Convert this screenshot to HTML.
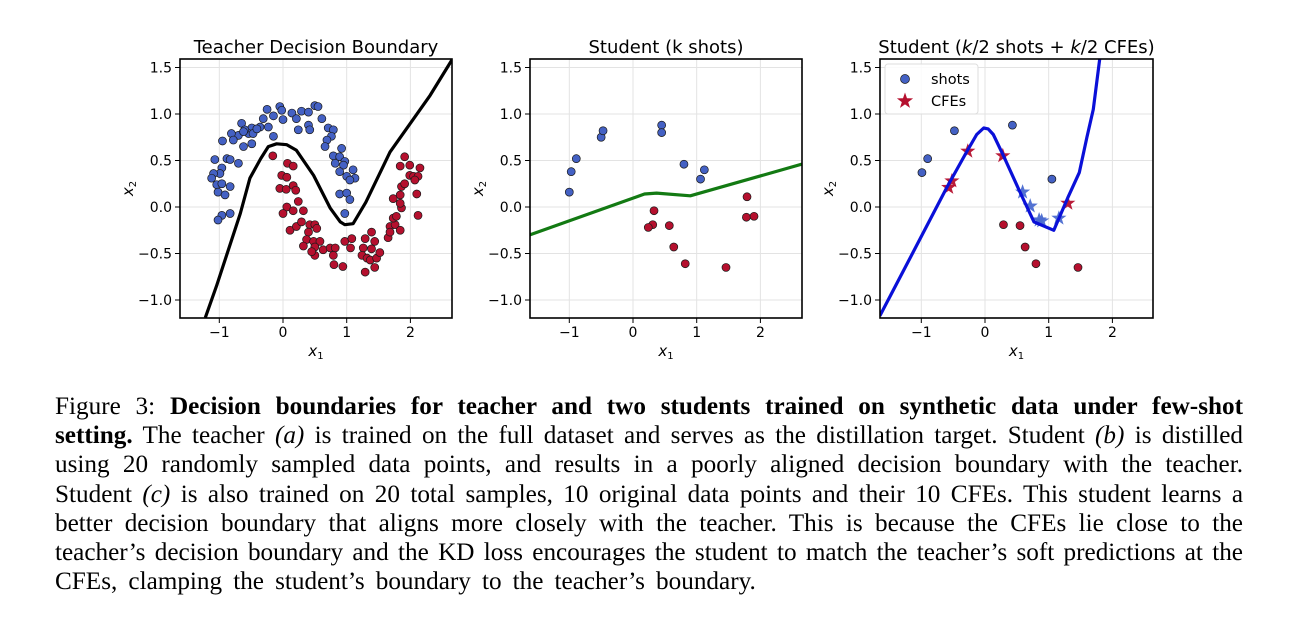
<!DOCTYPE html>
<html><head><meta charset="utf-8">
<style>
body{margin:0;background:#fff;width:1300px;height:632px;overflow:hidden}
svg{position:absolute;left:0;top:0}
#cap{position:absolute;left:55px;top:392px;width:1188px;font-family:"Liberation Serif",serif;font-size:25.2px;line-height:29.2px;color:#000}
#cap div{text-align:justify;text-align-last:justify;white-space:nowrap}
#cap div.last{text-align-last:left;word-spacing:4.8px}
</style></head><body>
<svg id="chart" width="1300" height="380"></svg>
<div id="cap">
<div>Figure 3: <b>Decision boundaries for teacher and two students trained on synthetic data under few-shot</b></div>
<div><b>setting.</b> The teacher <i>(a)</i> is trained on the full dataset and serves as the distillation target. Student <i>(b)</i> is distilled</div>
<div>using 20 randomly sampled data points, and results in a poorly aligned decision boundary with the teacher.</div>
<div>Student <i>(c)</i> is also trained on 20 total samples, 10 original data points and their 10 CFEs. This student learns a</div>
<div>better decision boundary that aligns more closely with the teacher. This is because the CFEs lie close to the</div>
<div>teacher’s decision boundary and the KD loss encourages the student to match the teacher’s soft predictions at the</div>
<div class="last">CFEs, clamping the student’s boundary to the teacher’s boundary.</div>
</div>
<script>
const xTicks=[-1,0,1,2];
const yTicks=[-1.0,-0.5,0.0,0.5,1.0,1.5];
const yTickLabels=["−1.0","−0.5","0.0","0.5","1.0","1.5"];
const t_blue=[[-0.25,1.05],[-0.05,1.08],[-0.02,1.04],[0.14,1.01],[0.29,1.03],[0.40,1.02],[0.50,1.09],[0.55,1.08],[-0.31,0.95],[-0.15,0.98],[0.0,0.94],[0.21,0.95],[0.24,0.83],[0.40,0.88],[0.42,0.83],[0.61,0.95],[0.71,0.85],[0.79,0.83],[0.76,0.76],[0.69,0.72],[0.66,0.65],[0.92,0.63],[0.79,0.55],[0.89,0.54],[0.97,0.49],[0.95,0.45],[0.82,0.47],[1.10,0.40],[0.89,0.38],[1.0,0.33],[1.13,0.31],[1.05,0.29],[0.89,0.14],[1.0,0.15],[1.05,0.08],[0.97,-0.07],[-0.15,0.76],[-0.23,0.86],[-0.36,0.86],[-0.49,0.85],[-0.54,0.79],[-0.65,0.90],[-0.60,0.83],[-0.70,0.77],[-0.81,0.79],[-0.78,0.72],[-0.62,0.65],[-0.49,0.68],[-0.95,0.71],[-1.07,0.51],[-0.88,0.52],[-0.83,0.51],[-0.70,0.47],[-0.96,0.42],[-0.99,0.36],[-1.09,0.36],[-1.12,0.31],[-1.04,0.24],[-0.96,0.25],[-0.83,0.22],[-1.02,0.16],[-0.91,0.13],[-0.96,-0.09],[-1.02,-0.14],[-0.83,-0.07],[-0.62,0.81],[-0.47,0.79],[-0.41,0.84]];
const t_red=[[-0.16,0.55],[0.07,0.47],[0.16,0.44],[-0.02,0.34],[0.06,0.32],[-0.05,0.20],[0.05,0.19],[0.16,0.23],[0.20,0.18],[0.24,0.06],[0.06,0.0],[0.16,-0.04],[0.32,-0.04],[0.0,-0.07],[0.11,-0.25],[0.21,-0.21],[0.29,-0.16],[0.42,-0.19],[0.50,-0.19],[0.40,-0.27],[0.53,-0.23],[0.37,-0.35],[0.48,-0.37],[0.58,-0.37],[0.32,-0.42],[0.50,-0.43],[0.63,-0.46],[0.50,-0.52],[0.45,-0.48],[0.74,-0.44],[0.82,-0.44],[0.79,-0.52],[0.97,-0.37],[1.08,-0.34],[1.06,-0.44],[0.80,-0.62],[0.94,-0.64],[1.29,-0.34],[1.39,-0.27],[1.44,-0.37],[1.26,-0.44],[1.39,-0.45],[1.24,-0.52],[1.32,-0.55],[1.37,-0.57],[1.47,-0.55],[1.52,-0.49],[1.29,-0.70],[1.44,-0.65],[1.65,-0.33],[1.68,-0.21],[1.76,-0.19],[1.84,-0.25],[1.73,-0.12],[1.78,-0.10],[1.86,-0.01],[1.73,0.09],[1.84,0.13],[1.86,0.22],[2.10,0.14],[1.84,0.04],[1.91,0.25],[1.99,0.34],[2.05,0.33],[2.12,0.33],[2.07,0.29],[1.99,0.45],[2.15,0.42],[1.84,0.44],[1.91,0.54],[2.12,-0.09],[1.68,-0.27]];
const t_line=[[-1.22,-1.19],[-1.04,-0.84],[-0.67,-0.07],[-0.52,0.31],[-0.35,0.52],[-0.23,0.65],[-0.1,0.68],[0.06,0.67],[0.21,0.61],[0.48,0.34],[0.74,-0.01],[0.9,-0.16],[0.97,-0.19],[1.1,-0.18],[1.3,0.05],[1.68,0.59],[2.31,1.2],[2.65,1.58]];
const s_blue=[[-1.0,0.16],[-0.97,0.38],[-0.89,0.52],[-0.5,0.75],[-0.47,0.82],[0.45,0.88],[0.45,0.80],[0.8,0.46],[1.12,0.40],[1.06,0.30]];
const s_red=[[0.33,-0.04],[0.31,-0.19],[0.24,-0.22],[0.57,-0.2],[0.64,-0.43],[0.82,-0.61],[1.46,-0.65],[1.79,0.11],[1.78,-0.11],[1.9,-0.1]];
const s_line=[[-1.62,-0.3],[0.18,0.14],[0.37,0.15],[0.9,0.12],[2.65,0.46]];
const c_blue=[[-0.99,0.37],[-0.9,0.52],[-0.48,0.82],[0.43,0.88],[1.05,0.30]];
const c_red=[[0.29,-0.19],[0.55,-0.2],[0.63,-0.43],[0.8,-0.61],[1.46,-0.65]];
const c_starRed=[[-0.57,0.21],[-0.52,0.28],[-0.27,0.6],[0.28,0.55],[1.3,0.04]];
const c_starBlue=[[0.59,0.16],[0.71,0.01],[0.85,-0.14],[0.89,-0.15],[1.16,-0.12]];
const c_line=[[-1.65,-1.17],[-1.1,-0.45],[-0.6,0.21],[-0.29,0.59],[-0.13,0.78],[-0.02,0.85],[0.05,0.84],[0.13,0.78],[0.29,0.55],[0.55,0.16],[0.77,-0.16],[1.08,-0.25],[1.3,0.1],[1.48,0.37],[1.6,0.75],[1.7,1.05],[1.8,1.59]];

const NS="http://www.w3.org/2000/svg";
const svg=document.getElementById('chart');
const BLUE="#4461c4",RED="#b5102e";
function mk(tag,attrs,parent){const e=document.createElementNS(NS,tag);for(const k in attrs)e.setAttribute(k,attrs[k]);(parent||svg).appendChild(e);return e;}
function panel(L,R,x0,title,id){
  const T=59,B=318,ux=63.7,uy=93,y0=207;
  const sx=v=>x0+ux*v, sy=v=>y0-uy*v;
  const g=mk('g',{});
  
  
  const clip=mk('clipPath',{id:'c'+id},g);mk('rect',{x:L,y:T,width:R-L,height:B-T},clip);
  xTicks.forEach(v=>{const l=mk('line',{x1:sx(v),x2:sx(v),y1:T,y2:B,stroke:'#e3e3e3','stroke-width':1},g);});
  yTicks.forEach(v=>{const l=mk('line',{x1:L,x2:R,y1:sy(v),y2:sy(v),stroke:'#e3e3e3','stroke-width':1},g);});
  xTicks.forEach(v=>{mk('line',{x1:sx(v),x2:sx(v),y1:B,y2:B+5,stroke:'#000'},g);
    const t=mk('text',{x:sx(v),y:B+19,'text-anchor':'middle','font-size':14,'font-family':'DejaVu Sans, sans-serif'},g);t.textContent=v<0?'−'+(-v):String(v);
    });
  yTicks.forEach((v,i)=>{mk('line',{x1:L-5,x2:L,y1:sy(v),y2:sy(v),stroke:'#000'},g);
    const t=mk('text',{x:L-8,y:sy(v)+5,'text-anchor':'end','font-size':14,'font-family':'DejaVu Sans, sans-serif'},g);t.textContent=yTickLabels[i];
    });
  const xl=mk('text',{x:(L+R)/2,y:B+38,'text-anchor':'middle','font-size':15,'font-family':'DejaVu Sans, sans-serif','font-style':'italic'},g);
  xl.innerHTML='x<tspan font-size="10" dy="3" font-style="normal">1</tspan>';
  
  const yl=mk('text',{x:0,y:0,'text-anchor':'middle','font-size':15,'font-family':'DejaVu Sans, sans-serif','font-style':'italic',transform:`translate(${L-47},${(T+B)/2}) rotate(-90)`},g);
  yl.innerHTML='x<tspan font-size="10" dy="3" font-style="normal">2</tspan>';
  
  const tt=mk('text',{x:(L+R)/2,y:T-6,'text-anchor':'middle','font-size':18,'font-family':'DejaVu Sans, sans-serif'},g);
  tt.innerHTML=title;
  const inner=mk('g',{'clip-path':`url(#c${id})`},g);
  return {g,inner,sx,sy,L,R,T,B};
}
function line(p,data,color,name){const d=data.map((q,i)=>(i?'L':'M')+p.sx(q[0]).toFixed(1)+','+p.sy(q[1]).toFixed(1)).join('');
  const e=mk('path',{d,fill:'none',stroke:color,'stroke-width':3.2,'stroke-linejoin':'round'},p.inner);}
function dots(p,data,color,name){data.forEach(q=>{const c=mk('circle',{cx:p.sx(q[0]),cy:p.sy(q[1]),r:4,fill:color,stroke:'#1a1a1a','stroke-width':0.7},p.inner);});}
function starPath(cx,cy,r){let d='';for(let i=0;i<10;i++){const a=-Math.PI/2+i*Math.PI/5,rr=i%2?r*0.4:r;d+=(i?'L':'M')+(cx+rr*Math.cos(a)).toFixed(1)+','+(cy+rr*Math.sin(a)).toFixed(1);}return d+'Z';}
function stars(p,data,color,name){data.forEach(q=>{const s=mk('path',{d:starPath(p.sx(q[0]),p.sy(q[1]),8),fill:color,opacity:0.95},p.inner);});}
function frame(p){const r=mk('rect',{x:p.L,y:p.T,width:p.R-p.L,height:p.B-p.T,fill:'none',stroke:'#000','stroke-width':1.6},p.g);}

const p1=panel(180,452,283,'Teacher Decision Boundary','panel-teacher');
dots(p1,t_blue,BLUE,'teacher-blue-point');dots(p1,t_red,RED,'teacher-red-point');line(p1,t_line,'#000','teacher-boundary');frame(p1);
const p2=panel(530,802,633,'Student (k shots)','panel-student-b');
dots(p2,s_blue,BLUE,'student-b-blue-point');dots(p2,s_red,RED,'student-b-red-point');line(p2,s_line,'#137a13','student-b-boundary');frame(p2);
const p3=panel(880,1153,985,'Student (<tspan font-style="italic">k</tspan>/2 shots + <tspan font-style="italic">k</tspan>/2 CFEs)','panel-student-c');
dots(p3,c_blue,BLUE,'student-c-blue-shot');dots(p3,c_red,RED,'student-c-red-shot');stars(p3,c_starRed,'#b5102e','cfe-red-star');stars(p3,c_starBlue,'#4a6ad0','cfe-blue-star');line(p3,c_line,'#0a10d8','student-c-boundary');frame(p3);
const lg=mk('g',{});
mk('rect',{x:885,y:64,width:93,height:50,rx:3,fill:'#fff',stroke:'#ddd','fill-opacity':0.85},lg);
const lc=mk('circle',{cx:905,cy:79,r:4.5,fill:BLUE,stroke:'#1a1a1a','stroke-width':0.7},lg);
const ls=mk('path',{d:starPath(905,101,8.5),fill:RED},lg);
const t1=mk('text',{x:931,y:84,'font-size':14.5,'font-family':'DejaVu Sans, sans-serif'},lg);t1.textContent='shots';
const t2=mk('text',{x:931,y:106,'font-size':14.5,'font-family':'DejaVu Sans, sans-serif'},lg);t2.textContent='CFEs';
</script>
</body></html>
